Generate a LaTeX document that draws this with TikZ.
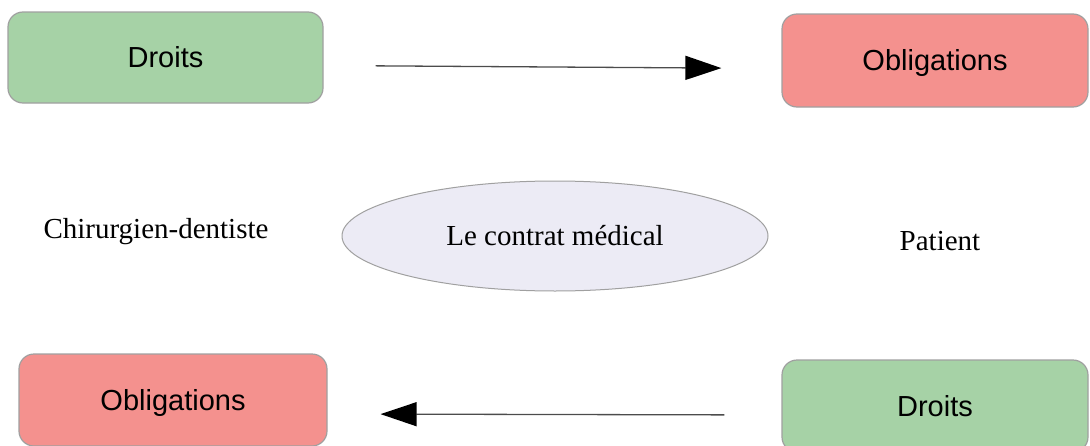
\documentclass[tikz,border=0pt]{standalone}
\usepackage{fontspec}
\setmainfont{Liberation Serif}
\newfontfamily\boxfont{Liberation Sans}
\usetikzlibrary{arrows.meta,shapes}

\definecolor{vertdroit}{RGB}{166,210,166}
\definecolor{rougeoblig}{RGB}{244,145,142}
\definecolor{mauvecontrat}{RGB}{236,235,245}
\definecolor{bordgris}{RGB}{160,160,160}

\begin{document}
\begin{tikzpicture}[
  boite/.style={draw=bordgris,line width=1.2bp,rounded corners=15bp,font=\boxfont\fontsize{29bp}{34bp}\selectfont,inner sep=0pt,text height=26bp,text depth=5.2bp},
  droit/.style={boite,fill=vertdroit},
  oblig/.style={boite,fill=rougeoblig},
  fleche/.style={-{Triangle[length=36bp,width=24bp,color=black]},line width=1.3bp,draw=black!70}]

\useasboundingbox (0bp,0bp) rectangle (1090bp,-446bp);

\node (D1) at (165.5bp,-57.5bp)[droit,minimum width=315bp,minimum height=91bp] {Droits};
\node (O1) at (935bp,-60.5bp)[oblig,minimum width=306bp,minimum height=93bp] {Obligations};
\node (O2) at (173bp,-400bp)[oblig,minimum width=308bp,minimum height=92bp] {Obligations};
\node (D2) at (935bp,-406bp)[droit,minimum width=306bp,minimum height=92bp] {Droits};

\node (C) at (555bp,-236bp)[draw=bordgris,line width=1bp,ellipse,fill=mauvecontrat,minimum width=426bp,minimum height=110bp,inner sep=0pt,font=\fontsize{29bp}{34bp}\selectfont] {Le contrat médical};
\node (CD) at (156bp,-232bp)[font=\fontsize{29bp}{34bp}\selectfont] {Chirurgien-dentiste};
\node (P) at (940bp,-241bp)[font=\fontsize{29bp}{34bp}\selectfont] {Patient};

\draw [fleche,shorten <=52bp,shorten >=60bp] ([yshift=-8bp]D1.east) -- ([yshift=-8bp]O1.west);
\draw [fleche,shorten <=57bp,shorten >=53bp] ([yshift=-9bp]D2.west) -- ([yshift=-14bp]O2.east);
\end{tikzpicture}
\end{document}
